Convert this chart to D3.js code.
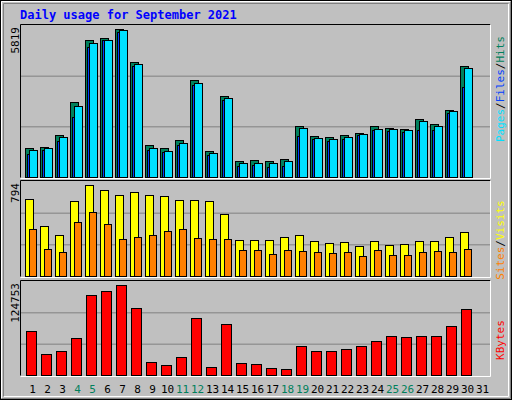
<!DOCTYPE html><html><head><meta charset="utf-8">
<script src="https://cdn.jsdelivr.net/npm/d3@7"></script>
<style>body{margin:0;background:#fff}svg{display:block}text{font-family:"DejaVu Sans Mono",monospace}</style>
</head><body><svg width="512" height="400"></svg><script>
const days = d3.range(1,32);
const weekend = [4,5,11,12,18,19,25,26];
const hits  = [1129,1182,1642,2942,5385,5464,5819,4532,1248,1129,1445,3809,1011,3179,617,657,617,696,1997,1603,1576,1642,1721,1997,1931,1878,2286,2075,2627,4361,0];
const files = [1051,1129,1563,2785,5267,5385,5780,4440,1129,1011,1327,3691,933,3100,539,539,539,617,1918,1524,1484,1563,1681,1878,1878,1839,2194,1997,2588,4282,0];
const pages = [893,1051,1405,2351,5110,5385,5701,4361,1051,972,1248,3612,854,3021,420,460,381,420,1603,1484,1405,1484,1642,1839,1800,1760,1839,1839,2509,3533,0];
const visits= [673,432,362,656,794,751,708,734,708,699,665,665,656,544,311,311,311,337,354,302,285,293,259,302,268,276,302,302,337,388,0];
const sites = [406,233,207,475,561,457,319,337,362,397,414,328,319,319,224,224,190,224,216,207,199,207,173,224,181,181,207,216,207,233,0];
const kbytes= [60556,29140,33237,50994,111094,116558,124753,93338,18212,14114,25042,79679,11383,70117,16846,15480,10017,8651,40067,33237,33237,35969,40067,46897,53726,52360,53726,53726,67385,91972,0];
const maxLabels = ["5819","794","124753"];

const svg = d3.select("svg");
svg.append("rect").attr("width",512).attr("height",400).attr("fill","#C0C0C0");
svg.append("rect").attr("x",0.5).attr("y",0.5).attr("width",511).attr("height",399).attr("fill","none").attr("stroke","#000");
svg.append("path").attr("d","M1.5,398.5V1.5H510.5").attr("stroke","#fff").attr("fill","none");
svg.append("path").attr("d","M1.5,398.5H510.5V1.5").attr("stroke","#808080").attr("fill","none");
svg.append("path").attr("d","M3.5,396.5H508.5V3.5").attr("stroke","#fff").attr("fill","none");
svg.append("path").attr("d","M3.5,396.5V3.5H508.5").attr("stroke","#808080").attr("fill","none");

svg.append("text").attr("x",20).attr("y",19).attr("fill","#0000FF").attr("font-weight","bold").attr("font-size",12).text("Daily usage for September 2021");

const x = d3.scaleBand().domain(days).range([21,486]).paddingInner(0);
const panels = [{top:25,bot:177},{top:181,bot:276},{top:281,bot:375}];
panels.forEach((p,i)=>{
  // frame
  svg.append("path").attr("d",`M20.5,${p.bot+0.5}V${p.top-0.5}H490.5`).attr("stroke","#000").attr("fill","none");
  svg.append("path").attr("d",`M20.5,${p.bot+1.5}H490.5V${p.top-0.5}`).attr("stroke","#fff").attr("fill","none");
  const h=p.bot-p.top;
  [1,2].forEach(k=>svg.append("line").attr("x1",21).attr("x2",490).attr("y1",p.top+h*k/3+0.5).attr("y2",p.top+h*k/3+0.5).attr("stroke","#808080"));
  svg.append("text").attr("transform",`translate(19,${p.top+2}) rotate(-90)`).attr("text-anchor","end").attr("font-size",11).attr("fill","#000").text(maxLabels[i]);
});

function bars(data, max, p, off, w, color){
  const y=d3.scaleLinear().domain([0,max]).range([p.bot,p.top+4]);
  svg.append("g").selectAll("rect").data(data.map((v,i)=>({v,d:days[i]})).filter(o=>o.v>0)).join("rect")
    .attr("x",o=>x(o.d)+off+0.5).attr("y",o=>Math.round(y(o.v))+0.5).attr("width",w).attr("height",o=>p.bot-Math.round(y(o.v)))
    .attr("fill",color).attr("stroke","#000");
}
bars(hits,5819,panels[0],4,8,"#00805C");
bars(pages,5819,panels[0],6,8,"#0040FF");
bars(files,5819,panels[0],8,8,"#00E0FF");
bars(visits,794,panels[1],4,8,"#FFFF00");
bars(sites,794,panels[1],8,7,"#FF8000");
bars(kbytes,124753,panels[2],5,10,"#FF0000");

function sideLabel(parts, cy){
  const t=svg.append("text").attr("transform",`translate(504,${cy}) rotate(-90)`).attr("text-anchor","middle").attr("font-size",11);
  parts.forEach(([s,c])=>t.append("tspan").attr("fill",c).text(s));
}
sideLabel([["Pages","#00E0FF"],["/","#000"],["Files","#0040FF"],["/","#000"],["Hits","#00805C"]],89);
sideLabel([["Sites","#FF8000"],["/","#000"],["Visits","#FFFF00"]],240);
sideLabel([["KBytes","#FF0000"]],340);

svg.append("g").selectAll("text").data(days).join("text")
  .attr("x",d=>x(d)+x.bandwidth()/2+4).attr("y",393).attr("text-anchor","middle").attr("font-size",11)
  .attr("fill",d=>weekend.includes(d)?"#00805C":"#000").text(d=>d);
</script></body></html>
